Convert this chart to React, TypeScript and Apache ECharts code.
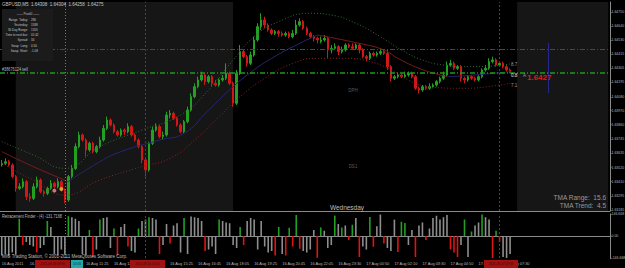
import React, { useEffect, useRef } from 'react';
import * as echarts from 'echarts';

// ---------- data ----------
const priceTicks = [1.6475, 1.6464, 1.6453, 1.64415, 1.64305, 1.64195, 1.6408, 1.6397, 1.6386, 1.63745, 1.63635, 1.6352, 1.6341, 1.63295, 1.63185];
const oscTicks = [146.668, 0, -146.668];
const timeLabels = ['16 Aug 2011', '16 Aug 08:45', '16 Aug 10:05', '16 Aug 11:25', '16 Aug 12:45', '16 Aug 14:05', '16 Aug 15:25', '16 Aug 16:45', '16 Aug 18:05', '16 Aug 19:25', '16 Aug 20:45', '16 Aug 22:05', '16 Aug 23:30', '17 Aug 00:50', '17 Aug 02:10', '17 Aug 03:30', '17 Aug 04:50', '17 Aug 06:10', '17 Aug 07:30'];
const LABEL_STEP = 8;
const SLOT_COUNT = 174;

// [open, close, low, high]
const candles = [
  [1.63541, 1.63554, 1.63528, 1.6358], [1.63554, 1.63567, 1.63541, 1.63593], [1.63567, 1.63541, 1.63528, 1.6358], [1.63541, 1.63449, 1.63435, 1.63554],
  [1.63449, 1.63356, 1.6333, 1.63462], [1.63356, 1.63369, 1.63343, 1.63396], [1.63369, 1.63409, 1.63356, 1.63435], [1.63409, 1.6329, 1.63264, 1.63422],
  [1.6329, 1.63277, 1.63251, 1.63317], [1.63277, 1.63369, 1.63264, 1.63396], [1.63369, 1.63422, 1.63356, 1.63449], [1.63422, 1.6333, 1.63317, 1.63435],
  [1.6333, 1.63317, 1.6329, 1.63343], [1.63317, 1.63356, 1.63303, 1.63369], [1.63356, 1.63396, 1.63343, 1.63422], [1.63396, 1.63369, 1.63356, 1.63409],
  [1.63369, 1.63409, 1.63356, 1.63435], [1.63409, 1.63343, 1.6333, 1.63422], [1.63343, 1.63264, 1.63238, 1.63356], [1.63264, 1.63449, 1.63251, 1.63462],
  [1.63449, 1.63514, 1.63435, 1.63541], [1.63514, 1.63686, 1.63501, 1.63712], [1.63686, 1.63778, 1.63672, 1.63804], [1.63778, 1.63738, 1.63725, 1.63791],
  [1.63738, 1.63659, 1.63607, 1.63751], [1.63659, 1.63712, 1.63646, 1.63725], [1.63712, 1.63646, 1.63633, 1.63725], [1.63646, 1.63686, 1.63633, 1.63699],
  [1.63686, 1.63738, 1.63672, 1.63765], [1.63738, 1.6383, 1.63725, 1.63857], [1.6383, 1.63896, 1.63817, 1.63923], [1.63896, 1.63857, 1.63844, 1.6391],
  [1.63857, 1.63804, 1.63791, 1.6387], [1.63804, 1.63778, 1.63765, 1.63817], [1.63778, 1.63817, 1.63765, 1.6383], [1.63817, 1.63804, 1.63778, 1.6383],
  [1.63804, 1.63844, 1.63791, 1.6387], [1.63844, 1.63778, 1.63765, 1.63857], [1.63778, 1.63738, 1.63725, 1.63791], [1.63738, 1.63686, 1.63672, 1.63751],
  [1.63686, 1.6358, 1.63554, 1.63699], [1.6358, 1.63501, 1.63449, 1.63593], [1.63501, 1.63712, 1.63488, 1.63725], [1.63712, 1.63817, 1.63699, 1.63844],
  [1.63817, 1.63844, 1.63804, 1.6387], [1.63844, 1.63765, 1.63751, 1.63857], [1.63765, 1.63778, 1.63738, 1.63804], [1.63778, 1.63936, 1.63765, 1.63962],
  [1.63936, 1.63949, 1.6391, 1.63975], [1.63949, 1.6391, 1.63896, 1.63962], [1.6391, 1.63857, 1.63844, 1.63923], [1.63857, 1.63804, 1.63791, 1.6387],
  [1.63804, 1.63883, 1.63791, 1.63896], [1.63883, 1.63975, 1.6387, 1.64002], [1.63975, 1.64081, 1.63962, 1.64107], [1.64081, 1.6416, 1.64068, 1.64186],
  [1.6416, 1.64213, 1.64147, 1.64239], [1.64213, 1.64252, 1.642, 1.64279], [1.64252, 1.642, 1.64173, 1.64265], [1.642, 1.64239, 1.64186, 1.64252],
  [1.64239, 1.64186, 1.6416, 1.64252], [1.64186, 1.64173, 1.6416, 1.64213], [1.64173, 1.64213, 1.6416, 1.64226], [1.64213, 1.64226, 1.642, 1.64252],
  [1.64226, 1.64265, 1.64213, 1.64344], [1.64265, 1.64186, 1.64173, 1.64279], [1.64186, 1.64028, 1.64002, 1.642], [1.64028, 1.64265, 1.64015, 1.64292],
  [1.64265, 1.64437, 1.64252, 1.64489], [1.64437, 1.64397, 1.64384, 1.6445], [1.64397, 1.64344, 1.64318, 1.6441], [1.64344, 1.6441, 1.64331, 1.64437],
  [1.6441, 1.64529, 1.64397, 1.64555], [1.64529, 1.64634, 1.64516, 1.64661], [1.64634, 1.64687, 1.64608, 1.6474], [1.64687, 1.64647, 1.64621, 1.64713],
  [1.64647, 1.64608, 1.64595, 1.64661], [1.64608, 1.64581, 1.64568, 1.64621], [1.64581, 1.64595, 1.64568, 1.64608], [1.64595, 1.64581, 1.64555, 1.64608],
  [1.64581, 1.64568, 1.64555, 1.64595], [1.64568, 1.64581, 1.64555, 1.64595], [1.64581, 1.64555, 1.64542, 1.64595], [1.64555, 1.64581, 1.64542, 1.64608],
  [1.64581, 1.64647, 1.64568, 1.64687], [1.64647, 1.64674, 1.64634, 1.647], [1.64674, 1.64621, 1.64608, 1.64687], [1.64621, 1.64581, 1.64568, 1.64634],
  [1.64581, 1.64555, 1.64542, 1.64595], [1.64555, 1.64542, 1.64516, 1.64568], [1.64542, 1.64529, 1.64502, 1.64555], [1.64516, 1.64529, 1.64502, 1.64555],
  [1.64529, 1.64542, 1.64516, 1.64568], [1.64542, 1.6445, 1.64384, 1.64555], [1.6445, 1.64463, 1.64423, 1.64489], [1.64463, 1.64476, 1.6445, 1.64502],
  [1.64476, 1.64437, 1.6441, 1.64489], [1.64437, 1.6445, 1.64423, 1.64476], [1.6445, 1.64489, 1.64437, 1.64502], [1.64489, 1.64476, 1.64463, 1.64502],
  [1.64476, 1.64463, 1.6445, 1.64502], [1.64463, 1.64489, 1.6445, 1.64502], [1.64489, 1.6445, 1.64423, 1.64502], [1.6445, 1.64397, 1.64384, 1.64463],
  [1.64397, 1.64384, 1.64358, 1.6441], [1.64384, 1.64423, 1.64371, 1.64437], [1.64423, 1.6441, 1.64397, 1.64437], [1.6441, 1.64423, 1.64397, 1.64437],
  [1.64423, 1.64437, 1.6441, 1.64463], [1.64437, 1.64423, 1.6441, 1.6445], [1.64423, 1.64318, 1.64292, 1.6445], [1.64318, 1.64226, 1.642, 1.64331],
  [1.64226, 1.64239, 1.64213, 1.64252], [1.64239, 1.64252, 1.64226, 1.64265], [1.64252, 1.64239, 1.64226, 1.64265], [1.64239, 1.64252, 1.64226, 1.64279],
  [1.64252, 1.64265, 1.64239, 1.64279], [1.64265, 1.64239, 1.64226, 1.64279], [1.64239, 1.64147, 1.64134, 1.64252], [1.64147, 1.64134, 1.64107, 1.6416],
  [1.64134, 1.6416, 1.6412, 1.64173], [1.6416, 1.64147, 1.64134, 1.64173], [1.64147, 1.6416, 1.64134, 1.64186], [1.6416, 1.64173, 1.64147, 1.64186],
  [1.64173, 1.642, 1.6416, 1.64213], [1.642, 1.64226, 1.64186, 1.64239], [1.64226, 1.64252, 1.64213, 1.64279], [1.64252, 1.64331, 1.64239, 1.64358],
  [1.64331, 1.64344, 1.64318, 1.64371], [1.64344, 1.64305, 1.64292, 1.64358], [1.64305, 1.64318, 1.64292, 1.64331], [1.64318, 1.64226, 1.642, 1.64331],
  [1.64226, 1.64213, 1.64186, 1.64239], [1.64213, 1.64239, 1.642, 1.64252], [1.64239, 1.64226, 1.64213, 1.64252], [1.64226, 1.64213, 1.642, 1.64239],
  [1.64213, 1.64239, 1.642, 1.64252], [1.64239, 1.64292, 1.64226, 1.64305], [1.64292, 1.64305, 1.64279, 1.64331], [1.64305, 1.64358, 1.64292, 1.64384],
  [1.64358, 1.64371, 1.64344, 1.64397], [1.64371, 1.64331, 1.64318, 1.64384], [1.64331, 1.64344, 1.64318, 1.64358], [1.64344, 1.64318, 1.64305, 1.64358],
  [1.64318, 1.64292, 1.64279, 1.64331], [1.64292, 1.64279, 1.64265, 1.64305],
];

const oscValues = [
  -130, -120, -135, -110, -125, 115, -60, -40, -60, -70,
  -110, -80, -60, 100, 60, -120, -130, -90, -120, 132,
  125, 115, 100, -120, -130, 40, -140, -90, 110, 120,
  125, -80, 50, -130, 60, 80, -70, -100, -110, 50,
  100, 110, 125, 120, 110, -120, -60, 80, -50, 70,
  85, -110, 120, -120, 130, 125, 120, 100, -100, -90,
  -70, -120, 110, 100, 90, 85, -60, -80, 60, -60,
  100, 120, 110, -90, 100, -70, -110, -100, -130, 60,
  -120, -130, 55, -70, 140, -85, -100, -110, -90, 40,
  -145, 57, 35, -80, -60, 136, 80, 57, 70, -27,
  75, 120, -140, -70, -90, 127, -72, 65, 143, -50,
  -80, -100, 109, -107, 95, 86, -60, 40, -140, 70,
  90, -27, 50, 120, 135, 110, 125, 140, -90, -110,
  -140, -60, 110, -140, 30, 70, 90, 143, 125, 110,
  -150, 35, -40, -140, -146, -120,
];
// g = green signal bar, r = red signal bar, n = neutral grey bar
const oscTone = ('nnnnngrnnn' + 'rnngnnnnng' + 'nnnnngrngn' + 'nngrnnrnng' + 'nngnnrnnrn' +
  'nngnnnnnrn' + 'nngnnnnngr' + 'nnnnnnnnrg' + 'nrgrgrnnnn' + 'rgnnngngnr' +
  'gnrnngrnnr' + 'nnnrggnnrn' + 'nrnnnnnnrr' + 'rngngnngnn' + 'rgrnnn').split('');

// TMA centre line (falling = red, rising = blue) and bands: [bar index, price]
const tmaFallA = [[0, 1.63646], [9, 1.63528], [19, 1.63409]];
const tmaRiseA = [[19, 1.63409], [28, 1.63567], [34, 1.63646], [45, 1.63738], [52, 1.63791], [59, 1.63975], [65, 1.64134], [70, 1.64252], [77, 1.64384], [86, 1.64516], [90, 1.64568]];
const tmaFallB = [[90, 1.64568], [102, 1.64502], [109, 1.6445], [113, 1.64384], [119, 1.64305], [124, 1.6426], [127, 1.64239]];
const tmaRiseB = [[127, 1.64239], [135, 1.64252], [145, 1.64279]];
const tmaUpper = [[0, 1.63725], [9, 1.6362], [18, 1.63514], [28, 1.63686], [40, 1.63817], [51, 1.63936], [59, 1.64134], [66, 1.64371], [72, 1.64555], [79, 1.64674], [88, 1.6474], [94, 1.64726], [101, 1.64661], [108, 1.64555], [114, 1.6445], [120, 1.64371], [126, 1.64331], [133, 1.64318], [140, 1.64323], [145, 1.64339]];
const tmaLower = [[0, 1.63554], [9, 1.63422], [18, 1.63303], [28, 1.63422], [40, 1.63528], [48, 1.63593], [55, 1.63738], [62, 1.63923], [68, 1.64081], [75, 1.64226], [83, 1.64344], [90, 1.64384], [98, 1.64384], [105, 1.64358], [112, 1.64279], [118, 1.64186], [124, 1.64152], [132, 1.64147], [140, 1.64165], [145, 1.64186]];

const sellArrow = [[15, 1.63338]];
const buyArrow = [[17, 1.63351]];

const stopLevel = 1.64458;
const orderLevel = 1.64273;
const bidPrice = 1.64275;
const eventBars = { teal: 18, redA: 41, redB: 142, blue: 156 };
const blueLineRange = [1.64505, 1.6411];
const sessionBands = [[4, 66], [147, 173]];

// ---------- styles ----------
const FONT = 'Liberation Sans';
const GREEN = '#22a022';
const RED = '#d01818';
const GREY = '#8e8e8e';
const AXIS = '#8a8a8a';

function txt(x: number, y: number, text: string, o: any = {}) {
  return {
    type: 'text', x, y, z: 20, silent: true, scaleX: o.sx || 1,
    style: {
      text, fill: o.fill || '#c4c4c4', fontSize: o.size || 5, fontFamily: FONT,
      fontWeight: o.weight || 'normal', align: o.align || 'left', verticalAlign: 'middle',
    },
  };
}

export default function App() {
  const ref = useRef<HTMLDivElement>(null);

  useEffect(() => {
    document.body.style.margin = '0';
    document.body.style.background = '#000';
    const chart = echarts.init(ref.current!, null, { renderer: 'svg' });
    const slots = Array.from({ length: SLOT_COUNT }, (_, i) => String(i));

    const vLines = [
      { xAxis: eventBars.teal, lineStyle: { color: '#2aa088', type: [1, 2], width: 1 } },
      { xAxis: eventBars.redA, lineStyle: { color: '#a81c1c', type: [2, 2], width: 1 } },
      { xAxis: eventBars.redB, lineStyle: { color: '#a81c1c', type: [2, 2], width: 1 } },
    ];

    const infoRows = [
      ['Range  Today:', '280'], ['Yesterday:', '1538'], ['30 Day Range:', '1315'], ['Time to next bar:', '01:42'],
      ['Spread:', '34'], ['Swap  Long:', '0.50'], ['Swap  Short:', '-1.08'],
    ];
    const infoY = [19.5, 24.5, 30, 35, 40, 45.5, 51];
    const small = { size: 4.2, sx: 0.72 };

    const graphics: any[] = [
      { type: 'rect', z: 15, shape: { x: 2, y: 9, width: 51, height: 52 }, style: { fill: '#1b1b1b' } },
      txt(28, 14, '—— PivotD ——', { ...small, align: 'center' }),
      ...infoRows.flatMap((r, k) => [txt(28, infoY[k], r[0], { ...small, align: 'right' }), txt(31, infoY[k], r[1], small)]),
      txt(2, 4, 'GBPUSD,M5  1.64308  1.64304  1.64258  1.64275', { size: 4.5 }),
      txt(2, 69, '#38676124 sell', { fill: '#b8b8b8', size: 4.5, sx: 0.85 }),
      txt(347, 207.5, 'Wednesday', { size: 6.5, align: 'center', fill: '#bdbdbd' }),
      txt(606, 197, 'TMA Range:  15.6', { size: 6.5, align: 'right', fill: '#9a9a9a' }),
      txt(606, 205.5, 'TMA Trend:  4.5', { size: 6.5, align: 'right', fill: '#9a9a9a' }),
      txt(511, 64.5, '8.7', { fill: '#9a9a9a', size: 4.5 }),
      txt(511, 75, '0.8', { fill: '#e0e0e0', size: 4.5 }),
      txt(511, 85, '7.1', { fill: '#9a9a9a', size: 4.5 }),
      txt(523, 75, 'A', { fill: '#9a9a9a', size: 4.5 }),
      txt(527, 77, '1.6427', { size: 8, weight: 'bold', fill: '#e01818' }),
      txt(353, 90, 'DPH', { size: 4.5, align: 'center', fill: '#5a5a5a' }),
      txt(353, 166, 'DS1', { size: 4.5, align: 'center', fill: '#5a5a5a' }),
      txt(2, 216.5, 'Retracement Finder - (4) -131.7168', { fill: '#bdbdbd', size: 4.5, sx: 0.85 }),
      txt(2, 256, 'MIG Trading Station, © 2001-2011 MetaQuotes Software Corp.', { fill: '#bdbdbd', size: 4.5 }),
      { type: 'rect', z: 18, shape: { x: 35, y: 260, width: 35, height: 8 }, style: { fill: '#a01212' } },
      txt(52.5, 264, '2011.08.16 09:55', { align: 'center', fill: '#4a0000', size: 4, sx: 0.8 }),
      { type: 'rect', z: 18, shape: { x: 71, y: 260, width: 12, height: 8 }, style: { fill: '#22a8a8' } },
      txt(77, 264, '10:05', { align: 'center', fill: '#003030', size: 4, sx: 0.8 }),
      { type: 'rect', z: 18, shape: { x: 130, y: 260, width: 35, height: 8 }, style: { fill: '#a01212' } },
      txt(147.5, 264, '2011.08.16 14:15', { align: 'center', fill: '#4a0000', size: 4, sx: 0.8 }),
      { type: 'rect', z: 18, shape: { x: 484, y: 260, width: 34, height: 8 }, style: { fill: '#a01212' } },
      txt(501, 264, '2011.08.17 07:05', { align: 'center', fill: '#4a0000', size: 4, sx: 0.8 }),
    ];

    const option: any = {
      animation: false,
      backgroundColor: '#000',
      textStyle: { fontFamily: FONT },
      grid: [
        { left: 0, right: 15, top: 2, height: 209, containLabel: false, outerBoundsMode: 'none' },
        { left: 0, right: 15, top: 214, height: 44, containLabel: false, outerBoundsMode: 'none' },
      ],
      xAxis: [
        {
          type: 'category', gridIndex: 0, data: slots, boundaryGap: true,
          axisLine: { show: true, lineStyle: { color: AXIS } }, axisTick: { show: false },
          axisLabel: { show: false }, splitLine: { show: false },
        },
        {
          type: 'category', gridIndex: 1, data: slots, boundaryGap: true,
          axisLine: { show: true, lineStyle: { color: AXIS } }, axisTick: { show: false },
          axisLabel: {
            interval: 0, align: 'left', fontSize: 3.9, color: '#b8b8b8', margin: 3, fontFamily: FONT,
            formatter: (_v: string, idx: number) => (idx % LABEL_STEP === 0 ? timeLabels[idx / LABEL_STEP] || '' : ''),
          },
          splitLine: { show: false },
        },
      ],
      yAxis: [
        {
          type: 'value', gridIndex: 0, position: 'right', min: 1.631771, max: 1.64829,
          axisLine: { show: true, lineStyle: { color: AXIS } },
          axisTick: { show: true, length: 1.5, lineStyle: { color: AXIS }, customValues: priceTicks },
          axisLabel: { customValues: priceTicks, formatter: (v: number) => v.toFixed(5), fontSize: 3.5, color: '#b8b8b8', margin: 1.5, fontFamily: FONT },
          splitLine: { show: false },
        },
        {
          type: 'value', gridIndex: 1, position: 'right', min: -146.668, max: 146.668,
          axisLine: { show: true, lineStyle: { color: AXIS } },
          axisTick: { show: true, length: 1.5, lineStyle: { color: AXIS }, customValues: oscTicks },
          axisLabel: {
            customValues: oscTicks, fontSize: 3.5, color: '#b8b8b8', margin: 1.5, fontFamily: FONT,
            formatter: (v: number) => (v === 0 ? '0.00' : v.toFixed(3)),
          },
          splitLine: { show: false },
        },
      ],
      series: [
        {
          type: 'candlestick', xAxisIndex: 0, yAxisIndex: 0, data: candles, barWidth: 2,
          itemStyle: { color: GREEN, color0: RED, borderColor: GREEN, borderColor0: RED, borderWidth: 1 },
          markArea: {
            silent: true,
            itemStyle: { color: '#161616' },
            data: sessionBands.map(([a, b]) => [{ xAxis: a }, { xAxis: b }]),
          },
          markLine: {
            silent: true, symbol: 'none', precision: 5, label: { show: false },
            data: [
              { yAxis: stopLevel, lineStyle: { color: '#b01c1c', width: 1, type: [5, 2, 1, 2] } },
              { yAxis: orderLevel, lineStyle: { color: '#1e9a1e', width: 1.6, type: [5, 2, 1, 2] } },
              {
                yAxis: bidPrice, lineStyle: { opacity: 0 },
                label: { show: true, position: 'end', formatter: bidPrice.toFixed(5), backgroundColor: '#d4d4d4', color: '#000', fontSize: 3.5, padding: [1, 1], distance: 1, fontFamily: FONT },
              },
              ...vLines,
              [
                { coord: [eventBars.blue, blueLineRange[0]], lineStyle: { color: '#262690', width: 1, type: 'solid' } },
                { coord: [eventBars.blue, blueLineRange[1]] },
              ],
            ],
          },
        },
        { type: 'line', xAxisIndex: 0, yAxisIndex: 0, data: tmaUpper, smooth: true, showSymbol: false, lineStyle: { color: '#2f6a2f', width: 1, type: [1, 2] } },
        { type: 'line', xAxisIndex: 0, yAxisIndex: 0, data: tmaLower, smooth: true, showSymbol: false, lineStyle: { color: '#8a2222', width: 1, type: [1, 2] } },
        { type: 'line', xAxisIndex: 0, yAxisIndex: 0, data: tmaFallA, smooth: true, showSymbol: false, lineStyle: { color: '#7a1c1c', width: 1 } },
        { type: 'line', xAxisIndex: 0, yAxisIndex: 0, data: tmaRiseA, smooth: true, showSymbol: false, lineStyle: { color: '#262670', width: 1 } },
        { type: 'line', xAxisIndex: 0, yAxisIndex: 0, data: tmaFallB, smooth: true, showSymbol: false, lineStyle: { color: '#7a1c1c', width: 1 } },
        { type: 'line', xAxisIndex: 0, yAxisIndex: 0, data: tmaRiseB, smooth: true, showSymbol: false, lineStyle: { color: '#262670', width: 1 } },
        { type: 'scatter', xAxisIndex: 0, yAxisIndex: 0, data: sellArrow, symbolSize: 4, itemStyle: { color: '#ff8c8c' } },
        { type: 'scatter', xAxisIndex: 0, yAxisIndex: 0, data: buyArrow, symbolSize: 4, itemStyle: { color: '#e6c040' } },
        {
          type: 'bar', xAxisIndex: 1, yAxisIndex: 1, barWidth: 1.6,
          data: oscValues.map((v, i) => ({
            value: v,
            itemStyle: { color: oscTone[i] === 'g' ? GREEN : oscTone[i] === 'r' ? '#e01414' : GREY },
          })),
          markLine: { silent: true, symbol: 'none', label: { show: false }, data: vLines },
        },
      ],
      graphic: graphics,
    };

    chart.setOption(option);
    return () => chart.dispose();
  }, []);

  return <div ref={ref} style={{ position: 'absolute', left: 0, top: 0, width: 625, height: 268, background: '#000' }} />;
}
